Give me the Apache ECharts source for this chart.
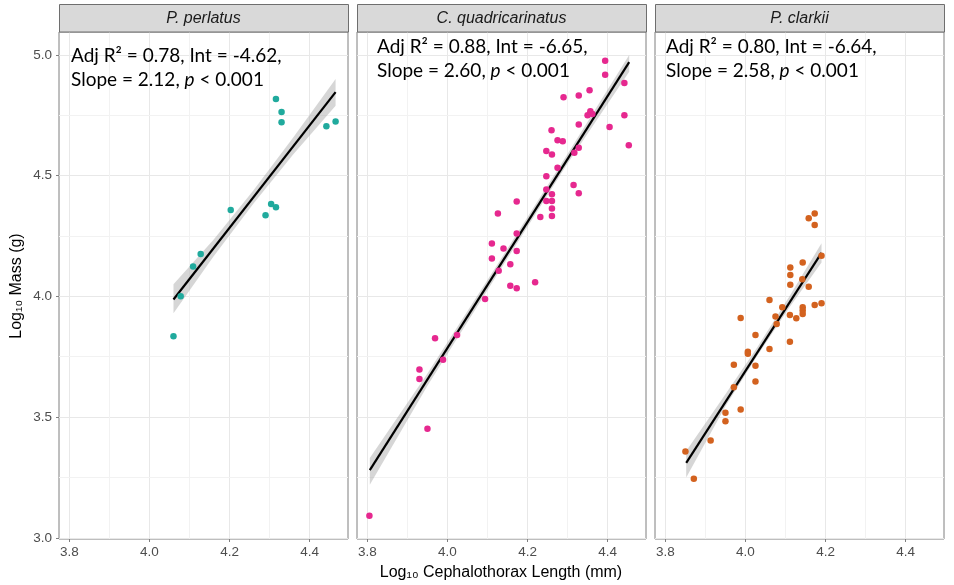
<!DOCTYPE html>
<html><head><meta charset="utf-8">
<script src="https://cdn.jsdelivr.net/npm/echarts@6/dist/echarts.min.js"></script>
<style>html,body{margin:0;padding:0;background:#fff}#chart{width:954px;height:585px}</style>
</head><body><div id="chart"></div><script>
// ---- data ----
const species = ['P. perlatus', 'C. quadricarinatus', 'P. clarkii'];
const adjR2 = ['0.78', '0.88', '0.80'];
const intercepts = ['-4.62', '-6.65', '-6.64'];
const slopes = ['2.12', '2.60', '2.58'];
const pText = '< 0.001';
const xTicks = [3.8, 4.0, 4.2, 4.4];
const xMinor = [3.9, 4.1, 4.3];
const yTicks = [3.0, 3.5, 4.0, 4.5, 5.0];
const yMinor = [3.25, 3.75, 4.25, 4.75];
const xRange = [3.774, 4.496];
const yRange = [2.995, 5.095];
const xTitle = 'Log₁₀ Cephalothorax Length (mm)';
const yTitle = 'Log₁₀ Mass (g)';

const perlatus = [
  [4.316,4.817],[4.330,4.764],[4.330,4.721],[4.442,4.705],[4.465,4.724],
  [4.203,4.358],[4.304,4.383],[4.316,4.369],[4.290,4.336],
  [4.128,4.175],[4.109,4.124],[4.078,4.000],[4.060,3.835]
];
const quadricarinatus = [
  [4.394,4.976],[4.394,4.918],[4.442,4.884],[4.355,4.854],[4.328,4.832],[4.290,4.825],
  [4.357,4.767],[4.362,4.755],[4.350,4.750],[4.442,4.750],[4.328,4.712],[4.405,4.701],
  [4.260,4.688],[4.453,4.626],[4.275,4.647],[4.288,4.643],[4.247,4.602],[4.261,4.588],
  [4.328,4.616],[4.317,4.595],[4.275,4.533],[4.247,4.498],[4.315,4.461],[4.328,4.427],
  [4.247,4.443],[4.261,4.423],[4.247,4.395],[4.261,4.395],[4.261,4.364],[4.261,4.333],
  [4.232,4.329],[4.173,4.393],[4.126,4.343],[4.173,4.260],[4.111,4.219],[4.140,4.198],
  [4.173,4.188],[4.111,4.157],[4.157,4.133],[4.128,4.106],[4.157,4.044],[4.173,4.034],
  [4.219,4.058],[4.094,3.989],[4.024,3.840],[3.969,3.826],[3.989,3.737],[3.930,3.697],
  [3.930,3.658],[3.950,3.452],[3.805,3.091]
];
const clarkii = [
  [4.158,4.324],[4.173,4.343],[4.173,4.296],[4.190,4.168],[4.143,4.140],[4.112,4.120],
  [4.112,4.088],[4.112,4.048],[4.142,4.071],[4.158,4.040],[4.060,3.985],[4.092,3.955],
  [4.173,3.964],[4.190,3.971],[4.143,3.955],[4.143,3.941],[4.143,3.927],[4.075,3.917],
  [4.111,3.923],[4.127,3.909],[3.988,3.910],[4.078,3.886],[4.025,3.840],[4.111,3.812],
  [4.060,3.782],[4.006,3.771],[4.006,3.762],[3.971,3.717],[4.025,3.713],[4.025,3.647],
  [3.971,3.624],[3.988,3.531],[3.950,3.518],[3.950,3.483],[3.913,3.403],[3.850,3.357],[3.871,3.245]
];
const perlatusFit = [[4.06,3.987],[4.465,4.846]];
const quadricarinatusFit = [[3.806,3.28],[4.454,4.97]];
const clarkiiFit = [[3.852,3.31],[4.19,4.18]];
// confidence ribbons: [x, lower, upper]
const perlatusBand = [[4.06,3.93,4.05],[4.16,4.165,4.235],[4.26,4.385,4.44],[4.36,4.59,4.66],[4.465,4.79,4.90]];
const quadricarinatusBand = [[3.806,3.22,3.33],[3.95,3.63,3.68],[4.13,4.105,4.145],[4.30,4.55,4.59],[4.454,4.93,5.00]];
const clarkiiBand = [[3.852,3.25,3.36],[3.95,3.545,3.595],[4.03,3.755,3.79],[4.11,3.955,4.00],[4.19,4.14,4.22]];

// ---- styles / layout ----
const pointColors = ['#20aa9d', '#e6288f', '#d3621f'];
const panelLeft = [59, 357, 655];
const panelWidth = 289;
const panelTop = 32;
const panelHeight = 507;
const noteLeft = [71, 377, 666];
const noteTop = [44, 35, 35];
const points = [perlatus, quadricarinatus, clarkii];
const fits = [perlatusFit, quadricarinatusFit, clarkiiFit];
const bands = [perlatusBand, quadricarinatusBand, clarkiiBand];

const grids = [], xAxes = [], yAxes = [], series = [], graphics = [];
for (let i = 0; i < 3; i++) {
  grids.push({left: panelLeft[i], top: panelTop, width: panelWidth, height: panelHeight,
    show: true, borderColor: '#7f7f7f', borderWidth: 1, backgroundColor: '#fff'});
  xAxes.push({type: 'value', gridIndex: i, min: xRange[0], max: xRange[1],
    axisLine: {show: false},
    axisTick: {show: true, length: 3, lineStyle: {color: '#7f7f7f'}, customValues: xTicks},
    axisLabel: {customValues: xTicks, formatter: v => v.toFixed(1), color: '#4d4d4d', fontSize: 13.5,
      fontFamily: 'Liberation Sans', margin: 6},
    splitLine: {show: true, lineStyle: {color: '#e8e8e8', width: 1}}});
  yAxes.push({type: 'value', gridIndex: i, min: yRange[0], max: yRange[1],
    axisLine: {show: false},
    axisTick: {show: i === 0, length: 3, lineStyle: {color: '#7f7f7f'}, customValues: yTicks},
    axisLabel: {show: i === 0, customValues: yTicks, formatter: v => v.toFixed(1), color: '#4d4d4d',
      fontSize: 13.5, fontFamily: 'Liberation Sans', margin: 7},
    splitLine: {show: true, lineStyle: {color: '#e8e8e8', width: 1}}});
  const band = bands[i];
  series.push({type: 'custom', xAxisIndex: i, yAxisIndex: i, z: 2, silent: true, clip: true,
    data: band, encode: {x: 0, y: [1, 2]},
    renderItem: function (params, api) {
      if (params.dataIndex !== 0) return null;
      const lower = band.map(d => api.coord([d[0], d[1]]));
      const upper = band.slice().reverse().map(d => api.coord([d[0], d[2]]));
      return {type: 'polygon', shape: {points: lower.concat(upper)},
        style: {fill: 'rgba(153,153,153,0.4)'}};
    },
    markLine: {silent: true, symbol: 'none', z: 1, animation: false,
      label: {show: false},
      lineStyle: {color: '#f2f2f2', width: 1, type: 'solid'},
      data: xMinor.map(v => ({xAxis: v})).concat(yMinor.map(v => ({yAxis: v})))}
  });
  series.push({type: 'line', xAxisIndex: i, yAxisIndex: i, z: 3, data: fits[i], symbol: 'none',
    lineStyle: {color: '#000', width: 2.2}, silent: true, animation: false});
  series.push({type: 'scatter', xAxisIndex: i, yAxisIndex: i, z: 4, data: points[i], symbolSize: 6.5,
    itemStyle: {color: pointColors[i], opacity: 1}, animation: false});
  // strip
  graphics.push({type: 'rect', z: 10, shape: {x: panelLeft[i] + 0.5, y: 4.5, width: panelWidth, height: 27.5},
    style: {fill: '#d9d9d9', stroke: '#6e6e6e', lineWidth: 1}});
  graphics.push({type: 'text', z: 11, x: panelLeft[i] + panelWidth / 2, y: 19,
    style: {text: species[i], fontFamily: 'Liberation Sans', fontStyle: 'italic', fontSize: 16,
      fill: '#1a1a1a', align: 'center', verticalAlign: 'middle'}});
  // annotation
  graphics.push({type: 'text', z: 11, x: noteLeft[i], y: noteTop[i],
    style: {text: 'Adj R² = ' + adjR2[i] + ', Int = ' + intercepts[i] + ',\nSlope = ' + slopes[i] + ', {i|p} ' + pText,
      fontFamily: 'Lato', fontSize: 19, lineHeight: 24, fill: '#000',
      rich: {i: {fontFamily: 'Lato', fontSize: 19, fontStyle: 'italic', fill: '#000', lineHeight: 24}}}});
}
graphics.push({type: 'text', x: 501, y: 573,
  style: {text: xTitle, fontFamily: 'Liberation Sans', fontSize: 16, fill: '#000', align: 'center', verticalAlign: 'middle'}});
graphics.push({type: 'text', x: 17, y: 286, rotation: Math.PI / 2,
  style: {text: yTitle, fontFamily: 'Liberation Sans', fontSize: 16, fill: '#000', align: 'center', verticalAlign: 'middle'}});

const chart = echarts.init(document.getElementById('chart'), null, {renderer: 'canvas'});
chart.setOption({animation: false, backgroundColor: '#fff', grid: grids, xAxis: xAxes, yAxis: yAxes,
  series: series, graphic: graphics});
</script></body></html>
